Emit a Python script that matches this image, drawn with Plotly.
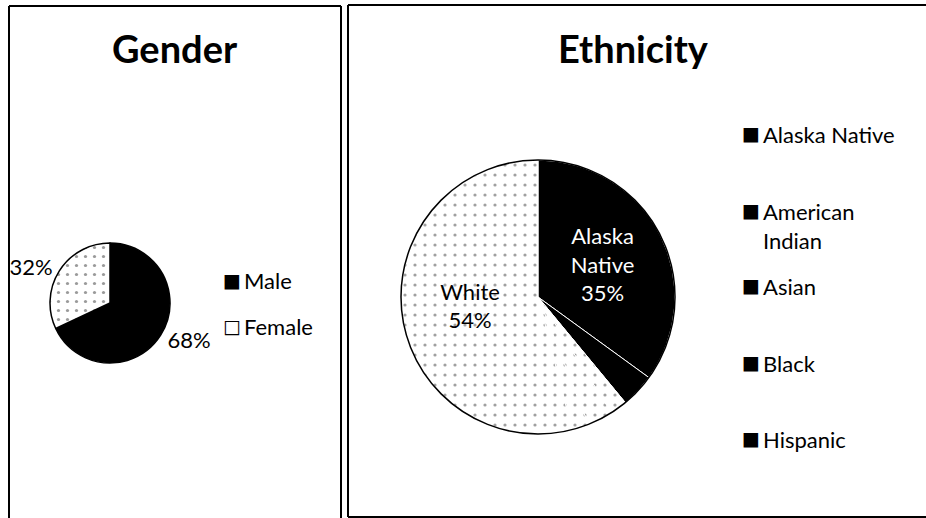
"""Gender and ethnicity pie charts in two bordered panels."""

import plotly.graph_objects as go

W, H = 926, 518

# data
gender_labels = ["Male", "Female"]
gender_values = [68, 32]

eth_labels = ["Alaska Native", "American Indian", "Asian", "Black", "Hispanic", "White"]
eth_values = [35, 4, 2, 3, 2, 54]
eth_labelled = [True, False, False, False, False, True]
eth_dark = [True, True, False, False, False, False]

FONT = "Lato"


def px_x(x):
    return x / W


def px_y(y):
    return 1 - y / H


# pie boxes in pixels (left, right, top, bottom)
GENDER_BOX = (50, 170, 243, 363)
ETH_BOX = (401, 675, 160, 434)

fig = go.Figure()

fig.add_trace(
    go.Pie(
        labels=gender_labels,
        values=gender_values,
        sort=False,
        direction="clockwise",
        rotation=0,
        domain=dict(x=[px_x(GENDER_BOX[0]), px_x(GENDER_BOX[1])],
                    y=[px_y(GENDER_BOX[3]), px_y(GENDER_BOX[2])]),
        marker=dict(
            colors=["#000000", "#ffffff"],
            line=dict(color="#000000", width=1.5),
            pattern=dict(shape=["", "."], fgcolor="#9a9a9a", size=9, solidity=0.1),
        ),
        textinfo="percent",
        textposition="outside",
        textfont=dict(family=FONT, size=22, color="#000000"),
        showlegend=False,
        hoverinfo="label+percent",
    )
)

eth_colors = ["#000000" if d else "#ffffff" for d in eth_dark]
eth_text = [lab.replace(" ", "<br>") for lab in eth_labels]
eth_tmpl = ["%{text}<br>%{percent}" if s else "" for s in eth_labelled]
eth_txtcol = ["#ffffff" if d else "#000000" for d in eth_dark]

fig.add_trace(
    go.Pie(
        labels=eth_labels,
        values=eth_values,
        text=eth_text,
        texttemplate=eth_tmpl,
        sort=False,
        direction="clockwise",
        rotation=0,
        domain=dict(x=[px_x(ETH_BOX[0]), px_x(ETH_BOX[1])],
                    y=[px_y(ETH_BOX[3]), px_y(ETH_BOX[2])]),
        marker=dict(
            colors=eth_colors,
            line=dict(color="#ffffff", width=1),
            pattern=dict(
                shape=["" if d else "." for d in eth_dark],
                fgcolor="#a0a0a0",
                size=10,
                solidity=0.08,
            ),
        ),
        textposition="inside",
        insidetextorientation="horizontal",
        textfont=dict(family=FONT, size=22, color=eth_txtcol),
        showlegend=False,
        hoverinfo="label+percent",
    )
)

# dark rim round the ethnicity pie
fig.add_shape(type="circle", xref="paper", yref="paper", layer="above",
              x0=px_x(ETH_BOX[0]), x1=px_x(ETH_BOX[1]),
              y0=px_y(ETH_BOX[3]), y1=px_y(ETH_BOX[2]),
              line=dict(color="#000000", width=1.5))

# panel borders: left panel open at the bottom, right panel open at the right
border = dict(color="#000000", width=2)
for x0, y0, x1, y1 in [
    (9, 530, 9, 6), (9, 6, 341, 6), (341, 6, 341, 530),
    (348, 517, 348, 5), (348, 5, 926, 5), (348, 517, 926, 517),
]:
    fig.add_shape(type="line", xref="paper", yref="paper",
                  x0=px_x(x0), x1=px_x(x1), y0=px_y(y0), y1=px_y(y1), line=border)

# titles
for txt, cx in [("Gender", 175), ("Ethnicity", 633)]:
    fig.add_annotation(x=px_x(cx), y=px_y(48), xref="paper", yref="paper",
                       text=f"<b>{txt}</b>", showarrow=False,
                       xanchor="center", yanchor="middle",
                       font=dict(family=FONT, size=38, color="#000000"))

# gender legend
gender_leg_y = [280, 326]
for lab, yy, sym in zip(gender_labels, gender_leg_y, ["■", "□"]):
    fig.add_annotation(x=px_x(221), y=px_y(yy), xref="paper", yref="paper",
                       text=sym, showarrow=False, xanchor="left", yanchor="middle",
                       font=dict(family="DejaVu Sans", size=19, color="#000000"))
    fig.add_annotation(x=px_x(242), y=px_y(yy), xref="paper", yref="paper",
                       text=lab, showarrow=False, xanchor="left", yanchor="middle",
                       font=dict(family=FONT, size=22, color="#000000"))

# ethnicity legend (first five categories)
eth_leg_y = [133, 210, 285, 362, 438]
for lab, yy in zip(eth_labels[:5], eth_leg_y):
    fig.add_annotation(x=px_x(740), y=px_y(yy), xref="paper", yref="paper",
                       text="■", showarrow=False, xanchor="left", yanchor="middle",
                       font=dict(family="DejaVu Sans", size=19, color="#000000"))
    lines = lab.split(" ") if lab == "American Indian" else [lab]
    fig.add_annotation(x=px_x(761), y=px_y(yy - 14), xref="paper", yref="paper",
                       text="<br>".join(lines), showarrow=False,
                       xanchor="left", yanchor="top", align="left",
                       font=dict(family=FONT, size=22, color="#000000"))

fig.update_layout(
    width=W,
    height=H,
    margin=dict(l=0, r=0, t=0, b=0),
    paper_bgcolor="#ffffff",
    plot_bgcolor="#ffffff",
)

fig.write_html(
    "out.html",
    config={"displayModeBar": False},
    post_script="document.body.style.margin='0px';",
)
